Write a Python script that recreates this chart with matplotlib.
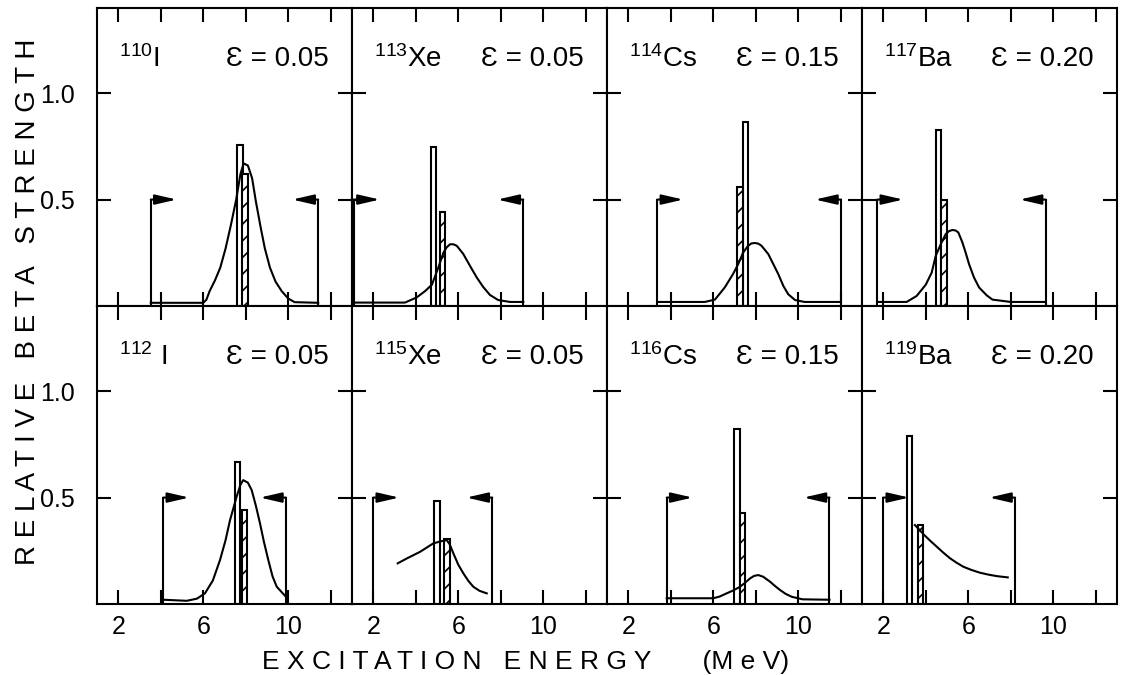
import matplotlib
matplotlib.use('Agg')
import matplotlib.pyplot as plt
from matplotlib.patches import FancyArrowPatch

plt.rcParams['font.family'] = ['Liberation Sans Narrow', 'Liberation Sans', 'DejaVu Sans']
plt.rcParams['mathtext.default'] = 'regular'
plt.rcParams['hatch.linewidth'] = 1.2

# panel order: top row left->right, then bottom row left->right
labels = ['$^{110}$I', '$^{113}$Xe', '$^{114}$Cs', '$^{117}$Ba',
          '$^{112}$ I', '$^{115}$Xe', '$^{116}$Cs', '$^{119}$Ba']
eps = ['0.05', '0.05', '0.15', '0.20', '0.05', '0.05', '0.15', '0.20']

# energy window (left and right bracket, MeV)
win_lo = [3.53, 1.09, 3.37, 1.72, 4.12, 2.00, 3.81, 2.00]
win_hi = [11.41, 9.06, 12.01, 9.64, 9.89, 7.60, 11.47, 8.20]

# open bar (left edge, height) and hatched bar (left edge, height)
open_x = [7.60, 4.72, 7.38, 4.48, 7.49, 4.87, 6.99, 3.10]
open_h = [0.755, 0.747, 0.865, 0.829, 0.668, 0.484, 0.820, 0.789]
hatch_x = [7.84, 5.14, 7.13, 4.73, 7.81, 5.34, 7.26, 3.64]
hatch_h = [0.620, 0.443, 0.558, 0.499, 0.440, 0.304, 0.426, 0.371]

# strength distribution curves
curve_x = [
    [3.53, 6.0, 6.15, 6.3, 6.55, 6.8, 7.05, 7.3, 7.55, 7.75, 7.9, 8.1, 8.3, 8.47,
     8.7, 8.9, 9.14, 9.4, 9.69, 10.0, 10.3, 11.41],
    [1.09, 3.49, 4.04, 4.44, 4.76, 5.06, 5.30, 5.45, 5.61, 5.77, 5.93, 6.24, 6.55,
     6.87, 7.17, 7.49, 7.88, 8.44, 9.06],
    [3.37, 5.6, 6.08, 6.54, 6.93, 7.17, 7.40, 7.64, 7.80, 7.96, 8.12, 8.27, 8.59,
     8.83, 9.06, 9.30, 9.53, 9.85, 10.3, 12.01],
    [1.72, 3.10, 3.57, 4.0, 4.28, 4.47, 4.75, 4.94, 5.10, 5.25, 5.40, 5.53, 5.72,
     5.88, 6.04, 6.27, 6.51, 6.87, 7.14, 8.0, 9.64],
    [4.12, 5.22, 5.7, 6.08, 6.45, 6.79, 7.05, 7.26, 7.57, 7.75, 7.88, 8.1, 8.28,
     8.48, 8.67, 8.86, 9.06, 9.26, 9.46, 9.89],
    [3.15, 3.6, 4.2, 4.83, 5.2, 5.46, 5.6, 5.77, 6.0, 6.24, 6.48, 6.71, 7.0, 7.34],
    [3.81, 6.0, 6.3, 6.63, 6.95, 7.26, 7.5, 7.73, 7.92, 8.12, 8.35, 8.67, 8.9,
     9.14, 9.4, 9.69, 10.2, 11.47],
    [3.49, 3.93, 4.2, 4.52, 4.83, 5.14, 5.45, 5.77, 6.15, 6.55, 6.95, 7.34, 7.86],
]
curve_y = [
    [0.015, 0.015, 0.03, 0.07, 0.12, 0.18, 0.27, 0.38, 0.50, 0.62, 0.67, 0.66,
     0.60, 0.495, 0.37, 0.27, 0.18, 0.115, 0.07, 0.035, 0.018, 0.015],
    [0.016, 0.016, 0.04, 0.07, 0.10, 0.18, 0.25, 0.275, 0.29, 0.29, 0.283, 0.244,
     0.189, 0.134, 0.09, 0.052, 0.028, 0.019, 0.019],
    [0.019, 0.019, 0.03, 0.087, 0.15, 0.196, 0.25, 0.283, 0.294, 0.296, 0.293,
     0.283, 0.244, 0.196, 0.15, 0.094, 0.055, 0.028, 0.019, 0.019],
    [0.019, 0.019, 0.047, 0.10, 0.157, 0.236, 0.30, 0.338, 0.352, 0.357, 0.355,
     0.346, 0.30, 0.25, 0.196, 0.134, 0.087, 0.05, 0.03, 0.019, 0.019],
    [0.02, 0.015, 0.025, 0.05, 0.11, 0.207, 0.30, 0.394, 0.504, 0.56, 0.582, 0.57,
     0.535, 0.46, 0.379, 0.29, 0.207, 0.13, 0.081, 0.034],
    [0.191, 0.215, 0.245, 0.285, 0.295, 0.30, 0.28, 0.238, 0.185, 0.144, 0.108,
     0.081, 0.062, 0.05],
    [0.027, 0.027, 0.035, 0.05, 0.064, 0.081, 0.10, 0.12, 0.132, 0.136, 0.128,
     0.105, 0.085, 0.066, 0.048, 0.034, 0.022, 0.02],
    [0.371, 0.324, 0.298, 0.269, 0.241, 0.215, 0.194, 0.175, 0.16, 0.147, 0.138,
     0.131, 0.125],
]

bar_w = 0.25
arrow_len = 1.22
lw = 1.5

fig, axes = plt.subplots(2, 4, figsize=(11.22, 6.75), dpi=100)
fig.subplots_adjust(left=97/1122, right=1117/1122, bottom=1-604/675, top=1-8/675,
                    wspace=0, hspace=0)

for i, ax in enumerate(axes.flat):
    row, col = divmod(i, 4)
    ax.set_xlim(1, 13)
    ax.set_ylim(0, 1.4)

    ax.bar(open_x[i], open_h[i], width=bar_w, align='edge', facecolor='white',
           edgecolor='black', linewidth=lw, zorder=2)
    ax.bar(hatch_x[i], hatch_h[i], width=bar_w, align='edge', facecolor='white',
           edgecolor='black', linewidth=lw, hatch='//', zorder=2)
    ax.plot(curve_x[i], curve_y[i], color='black', lw=lw, zorder=3)

    # window brackets with arrows
    for xb, d in [(win_lo[i], 1), (win_hi[i], -1)]:
        ax.plot([xb, xb], [0, 0.5], color='black', lw=lw, zorder=3)
        ax.add_patch(FancyArrowPatch((xb, 0.5), (xb + d * arrow_len, 0.5),
                                     arrowstyle='-|>,head_length=1.3,head_width=0.3',
                                     mutation_scale=10, lw=lw, color='black',
                                     shrinkA=0, shrinkB=0, zorder=3))

    ax.text(2.05, 1.16, labels[i], fontsize=20, ha='left', va='center')
    ax.text(11.9, 1.16, 'Ɛ = ' + eps[i], fontsize=20, ha='right', va='center')

    ax.set_xticks([2, 4, 6, 8, 10, 12])
    ax.set_xticklabels(['2', '', '6', '', '10', ''])
    ax.set_yticks([0.5, 1.0])
    ax.set_yticklabels(['0.5', '1.0'])
    ax.tick_params(direction='in', length=10, width=lw, top=True, right=True,
                   labelsize=18)
    ax.tick_params(axis='y', pad=16)
    ax.tick_params(axis='x', pad=8)
    if row == 0:
        ax.tick_params(labelbottom=False)
    if col != 0:
        ax.tick_params(labelleft=False)
    for s in ax.spines.values():
        s.set_linewidth(lw)

fig.text(262/1122, 1-662/675, 'E X C I T A T I O N   E N E R G Y       (M e V)',
         fontsize=19, ha='left', va='center')
fig.text(28/1122, 1-302/675, 'R E L A T I V E   B E T A   S T R E N G T H',
         fontsize=20, ha='center', va='center', rotation=90)

fig.savefig('out.png', dpi=100)
